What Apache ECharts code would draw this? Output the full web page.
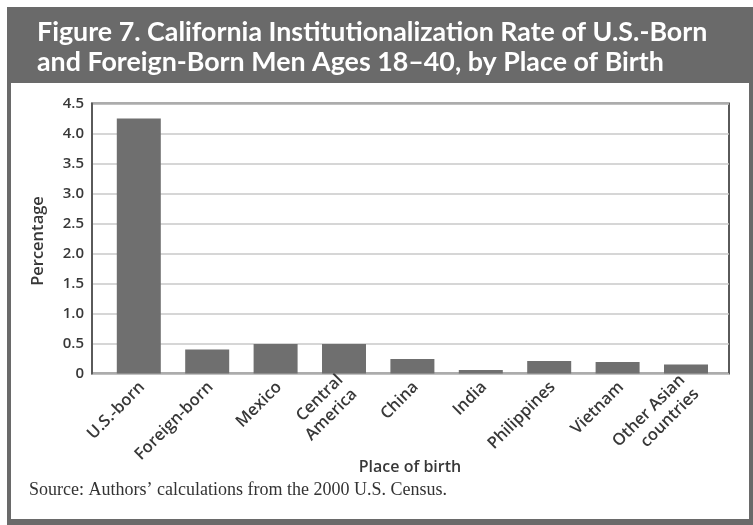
<!DOCTYPE html>
<html><head><meta charset="utf-8">
<script src="https://cdn.jsdelivr.net/npm/echarts@6/dist/echarts.min.js"></script>
<style>html,body{margin:0;padding:0;background:#fff}#c{width:753px;height:525px}</style>
</head><body><div id="c"></div>
<script>
const titleLines = ['Figure 7. California Institutionalization Rate of U.S.-Born', 'and Foreign-Born Men Ages 18\u201340, by Place of Birth'];
const categories = ['U.S.-born', 'Foreign-born', 'Mexico', 'Central\nAmerica', 'China', 'India', 'Philippines', 'Vietnam', 'Other Asian\ncountries'];
const rates = [4.25, 0.40, 0.49, 0.49, 0.24, 0.06, 0.21, 0.19, 0.15];
const yTickLabels = ['0', '0.5', '1.0', '1.5', '2.0', '2.5', '3.0', '3.5', '4.0', '4.5'];
const yAxisName = 'Percentage';
const xAxisName = 'Place of birth';
const sourceText = 'Source: Authors\u2019 calculations from the 2000 U.S. Census.';

const chart = echarts.init(document.getElementById('c'), null, {renderer: 'canvas'});
const txt = '#383838';
const axFont = {fontFamily: 'Open Sans', fontWeight: 600, color: txt};
const plotTop = 103.5, plotH = 270;

chart.setOption({
  animation: false,
  backgroundColor: '#ffffff',
  graphic: [
    {type: 'rect', shape: {x: 7, y: 7, width: 746, height: 518}, style: {fill: '#6a6a6a'}, z: -10},
    {type: 'rect', shape: {x: 11, y: 83, width: 738, height: 436}, style: {fill: '#ffffff'}, z: -9},
    {type: 'text', left: 37, top: 17, style: {text: titleLines.join('\n'), fill: '#ffffff', font: '700 26.8px Lato', lineHeight: 30}, z: 5},
    {type: 'text', left: 29, top: 481, style: {text: sourceText, fill: '#333333', font: '18px "Liberation Serif"'}, z: 5},
    {type: 'text', x: 410, y: 467, style: {text: xAxisName, fill: txt, font: '600 16px "Open Sans"', align: 'center', verticalAlign: 'middle'}, z: 5},
    {type: 'text', x: 38, y: 241, rotation: Math.PI / 2, style: {text: yAxisName, fill: txt, font: '600 16.5px "Open Sans"', align: 'center', verticalAlign: 'middle'}, z: 5}
  ],
  grid: [
    {left: 92, top: plotTop, width: 637, height: plotH, show: true, borderColor: '#5a5a5a', borderWidth: 2, backgroundColor: 'transparent'},
    {left: 104.6, top: plotTop, width: 615.6, height: plotH},
    {left: 108, top: plotTop, width: 615.6, height: plotH}
  ],
  xAxis: [
    {gridIndex: 0, type: 'value', min: 0, max: 1, show: false},
    {gridIndex: 1, type: 'category', data: categories, axisLine: {show: false}, axisTick: {show: false}, axisLabel: {show: false}},
    {gridIndex: 2, type: 'category', data: categories, axisLine: {show: false}, axisTick: {show: false},
      axisLabel: Object.assign({rotate: 45, fontSize: 16.5, margin: 11, interval: 0, lineHeight: 20}, axFont)}
  ],
  yAxis: [
    {gridIndex: 0, type: 'value', min: 0, max: 4.5, interval: 0.5,
      axisLine: {show: true, lineStyle: {color: '#5a5a5a', width: 2}}, axisTick: {show: false},
      splitLine: {show: true, lineStyle: {color: '#c8c8c8', width: 1.5}},
      axisLabel: Object.assign({fontSize: 15, margin: 8, formatter: (v) => yTickLabels[Math.round(v / 0.5)]}, axFont)},
    {gridIndex: 1, type: 'value', min: 0, max: 4.5, interval: 0.5, show: false, splitLine: {show: false}},
    {gridIndex: 2, type: 'value', min: 0, max: 4.5, interval: 0.5, show: false, splitLine: {show: false}}
  ],
  series: [
    {type: 'bar', xAxisIndex: 1, yAxisIndex: 1, data: rates, barWidth: 44, itemStyle: {color: '#6f6f6f'}, z: 3}
  ]
});
</script></body></html>
